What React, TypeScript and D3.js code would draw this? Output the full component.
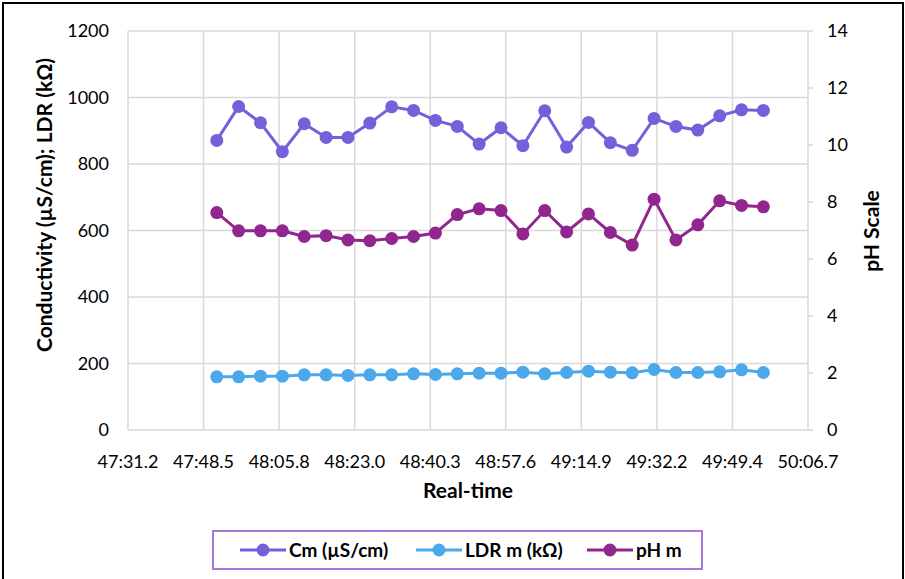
import React from "react";
import * as d3 from "d3";

const startSec = 47 * 60 + 51.5;
const stepSec = 5;
const cmValues = [871, 973, 924, 837, 921, 880, 880, 923, 972, 961, 931, 913, 860, 909, 855, 960, 851, 925, 864, 841, 937, 913, 902, 945, 963, 961];
const ldrValues = [160, 160, 162, 162, 166, 166, 164, 166, 166, 169, 167, 169, 171, 171, 174, 169, 173, 177, 174, 172, 182, 173, 173, 175, 181, 173];
const phValues = [7.63, 6.99, 6.99, 6.99, 6.79, 6.82, 6.67, 6.64, 6.72, 6.79, 6.91, 7.56, 7.76, 7.7, 6.88, 7.7, 6.95, 7.58, 6.93, 6.49, 8.1, 6.67, 7.2, 8.04, 7.88, 7.83];
const timeSec = cmValues.map((_, i) => startSec + i * stepSec);
const xTickLabels = ["47:31.2", "47:48.5", "48:05.8", "48:23.0", "48:40.3", "48:57.6", "49:14.9", "49:32.2", "49:49.4", "50:06.7"];
const xMinSec = 47 * 60 + 31.2;
const xMaxSec = 50 * 60 + 6.7;
const leftTicks = [0, 200, 400, 600, 800, 1000, 1200];
const rightTicks = [0, 2, 4, 6, 8, 10, 12, 14];

const C_CM = "#7660DA";
const C_LDR = "#4BA8EB";
const C_PH = "#91278E";
const GRID = "#d9d9d9";
const FONT = "Lato, 'Open Sans', sans-serif";

export default function App() {
  const W = 905, H = 579;
  const L = 128, R = 808, T = 31, B = 430;
  const x = d3.scaleLinear().domain([xMinSec, xMaxSec]).range([L, R]);
  const yL = d3.scaleLinear().domain([0, 1200]).range([B, T]);
  const yR = d3.scaleLinear().domain([0, 14]).range([B, T]);
  const xTickVals = xTickLabels.map((_, i) => xMinSec + (i * (xMaxSec - xMinSec)) / 9);

  const lineL = d3.line<number>().x((_, i) => x(timeSec[i])).y((d) => yL(d));
  const lineR = d3.line<number>().x((_, i) => x(timeSec[i])).y((d) => yR(d));

  const series = [
    { vals: cmValues, color: C_CM, y: yL, line: lineL },
    { vals: ldrValues, color: C_LDR, y: yL, line: lineL },
    { vals: phValues, color: C_PH, y: yR, line: lineR },
  ];

  const legend = [
    { label: "Cm (µS/cm)", color: C_CM, x0: 240 },
    { label: "LDR m (kΩ)", color: C_LDR, x0: 416 },
    { label: "pH m", color: C_PH, x0: 587 },
  ];

  return (
    <svg width={W} height={H} style={{ position: "absolute", left: 0, top: 0, background: "#fff" }} fontFamily={FONT}>
      <rect x={3} y={3} width={W - 5} height={H + 10} fill="#fff" stroke="#000" strokeWidth={2} />
      {leftTicks.map((t) => (
        <line key={"h" + t} x1={L} x2={R} y1={yL(t)} y2={yL(t)} stroke={GRID} strokeWidth={1.5} />
      ))}
      {xTickVals.map((t, i) => (
        <line key={"v" + i} x1={x(t)} x2={x(t)} y1={T} y2={B} stroke={GRID} strokeWidth={1.5} />
      ))}
      {rightTicks.map((t) => (
        <line key={"rt" + t} x1={R} x2={R + 5} y1={yR(t)} y2={yR(t)} stroke={GRID} strokeWidth={1.5} />
      ))}
      {leftTicks.map((t) => (
        <text key={"lt" + t} x={109} y={yL(t)} dy="0.35em" textAnchor="end" fontSize={18} fill="#000">{t}</text>
      ))}
      {rightTicks.map((t) => (
        <text key={"rl" + t} x={827} y={yR(t)} dy="0.35em" textAnchor="start" fontSize={18} fill="#000">{t}</text>
      ))}
      {xTickVals.map((t, i) => (
        <text key={"xl" + i} x={x(t)} y={462} dy="0.35em" textAnchor="middle" fontSize={18} fill="#000">{xTickLabels[i]}</text>
      ))}
      <text x={468} y={491} dy="0.35em" textAnchor="middle" fontSize={21} fontWeight="bold">Real-time</text>
      <text transform="translate(45,205) rotate(-90)" dy="0.35em" textAnchor="middle" fontSize={21} fontWeight="bold">Conductivity (µS/cm); LDR (kΩ)</text>
      <text transform="translate(872,231) rotate(-90)" dy="0.35em" textAnchor="middle" fontSize={21} fontWeight="bold">pH Scale</text>
      {series.map((s, si) => (
        <g key={"s" + si}>
          <path d={s.line(s.vals) || ""} fill="none" stroke={s.color} strokeWidth={3} />
          {s.vals.map((v, i) => (
            <circle key={i} cx={x(timeSec[i])} cy={s.y(v)} r={6.5} fill={s.color} />
          ))}
        </g>
      ))}
      <rect x={213} y={531} width={489} height={38} fill="#fff" stroke="#A875D8" strokeWidth={2} />
      {legend.map((l) => (
        <g key={l.label}>
          <line x1={l.x0} x2={l.x0 + 46} y1={550} y2={550} stroke={l.color} strokeWidth={3} />
          <circle cx={l.x0 + 23} cy={550} r={6.5} fill={l.color} />
          <text x={l.x0 + 49} y={550} dy="0.35em" fontSize={19} fontWeight="bold">{l.label}</text>
        </g>
      ))}
    </svg>
  );
}
